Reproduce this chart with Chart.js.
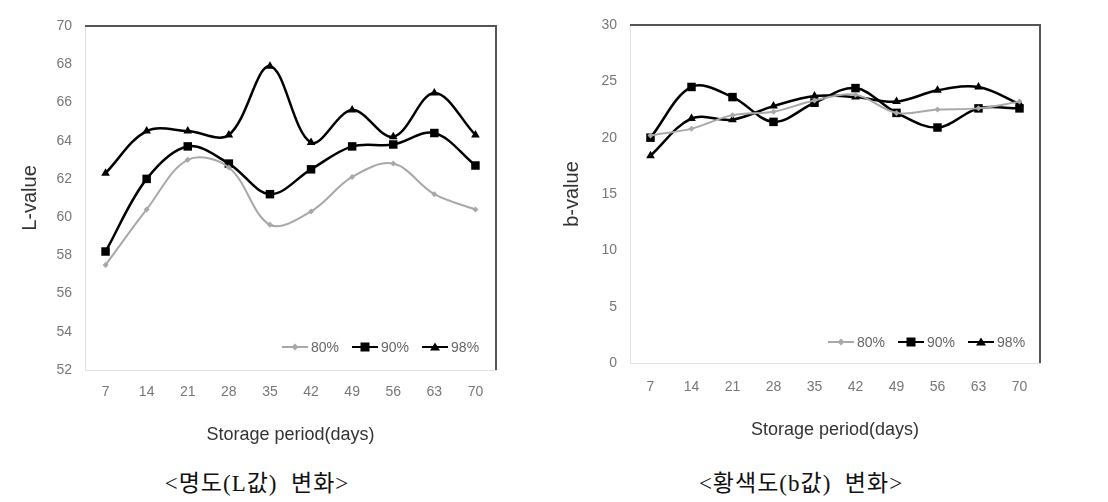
<!DOCTYPE html>
<html>
<head>
<meta charset="utf-8">
<script src="https://cdn.jsdelivr.net/npm/chart.js@4.4.0/dist/chart.umd.min.js"></script>
<style>
body{margin:0;background:#fff;width:1108px;height:502px;position:relative;overflow:hidden;font-family:"Liberation Sans",Arial,sans-serif}
.panel{position:absolute;top:0}
.legend{position:absolute;display:flex;align-items:center;font-size:14px;color:#666;height:16px}
.item{display:flex;align-items:center;margin-right:13px}
.sym{position:relative;width:26px;height:12px;margin-right:3px}
.sym .ln{position:absolute;left:0;right:0;top:5px;height:0}
.sym .mk{position:absolute;left:50%;top:50%}
.caption{position:absolute;top:464px;font-family:"Liberation Serif","Noto Sans CJK KR",serif;font-size:23px;letter-spacing:1px;color:#111;transform:translateX(-50%);white-space:pre}
</style>
</head>
<body>
<div class="panel" style="left:0"><canvas id="cL" width="550" height="450"></canvas></div>
<div class="panel" style="left:550px"><canvas id="cB" width="558" height="450"></canvas></div>
<div class="legend" id="legL" style="left:282px;top:339px"></div>
<div class="legend" id="legB" style="left:828px;top:334px"></div>
<div class="caption" style="left:257px">&lt;명도(L값)  변화&gt;</div>
<div class="caption" style="left:801px">&lt;황색도(b값)  변화&gt;</div>
<script>
// 저장기간(일)
const DAYS = ["7", "14", "21", "28", "35", "42", "49", "56", "63", "70"];
const SERIES = ["80%", "90%", "98%"];

// 명도 L값
const L_80 = [57.5, 60.4, 63.0, 62.6, 59.6, 60.3, 62.1, 62.8, 61.2, 60.4];
const L_90 = [58.2, 62.0, 63.7, 62.8, 61.2, 62.5, 63.7, 63.8, 64.4, 62.7];
const L_98 = [62.3, 64.5, 64.5, 64.3, 67.9, 63.9, 65.6, 64.2, 66.5, 64.3];

// 황색도 b값
const B_80 = [20.2, 20.8, 22.0, 22.3, 23.3, 23.8, 22.2, 22.5, 22.6, 23.2];
const B_90 = [20.0, 24.5, 23.6, 21.4, 23.1, 24.4, 22.2, 20.9, 22.6, 22.6];
const B_98 = [18.4, 21.7, 21.6, 22.8, 23.7, 23.6, 23.2, 24.2, 24.5, 23.0];

const L_TICKS = { min: 52, max: 70, step: 2 };
const B_TICKS = { min: 0, max: 30, step: 5 };

// series look (line colour, marker)
const LOOK = [
  { color: "#a8a8a8", width: 2, point: "rectRot", radius: 3 },
  { color: "#000000", width: 2.5, point: "rect", radius: 6 },
  { color: "#000000", width: 2.5, point: "triangle", radius: 5 }
];

// top and right border of the plot area
const frame = {
  id: "frame",
  beforeDatasetsDraw(c) {
    const { ctx, chartArea: a } = c;
    ctx.save();
    ctx.strokeStyle = "#555";
    ctx.lineWidth = 2;
    ctx.beginPath();
    ctx.moveTo(a.left, a.top);
    ctx.lineTo(a.right, a.top);
    ctx.lineTo(a.right, a.bottom);
    ctx.stroke();
    ctx.restore();
  }
};

function makeChart(id, series, ticks, yTitle, g) {
  const datasets = series.map((data, i) => ({
    label: SERIES[i],
    data,
    borderColor: LOOK[i].color,
    backgroundColor: LOOK[i].color,
    borderWidth: LOOK[i].width,
    pointStyle: LOOK[i].point,
    pointRadius: LOOK[i].radius,
    pointBorderWidth: 0,
    tension: 0.35
  }));
  return new Chart(document.getElementById(id), {
    type: "line",
    data: { labels: DAYS, datasets },
    plugins: [frame],
    options: {
      responsive: false,
      animation: false,
      layout: { padding: { top: g.top, right: g.right, left: 0, bottom: 0 } },
      plugins: { legend: { display: false }, tooltip: { enabled: false } },
      scales: {
        x: {
          offset: true,
          grid: { display: false, drawTicks: false },
          border: { display: true, color: "#e2e2e2", width: 1 },
          ticks: { color: "#777", font: { size: 14 }, padding: g.xTickPad, maxRotation: 0 },
          title: { display: true, text: "Storage period(days)", color: "#333", font: { size: 18 }, padding: { top: 0, bottom: g.xTitlePad } },
          afterFit: s => { s.height = g.xHeight; }
        },
        y: {
          min: ticks.min, max: ticks.max,
          grid: { display: false, drawTicks: false },
          border: { display: true, color: "#e2e2e2", width: 1 },
          ticks: { stepSize: ticks.step, color: "#777", font: { size: 14 }, padding: g.yTickPad },
          title: { display: true, text: yTitle, color: "#333", font: { size: 20 }, padding: { top: g.yTitlePad, bottom: 0 } },
          afterFit: s => { s.width = g.yWidth; }
        }
      }
    }
  });
}

function makeLegend(id) {
  const el = document.getElementById(id);
  SERIES.forEach((name, i) => {
    const lk = LOOK[i];
    let mk;
    if (lk.point === "rect") mk = `width:9px;height:9px;background:${lk.color};transform:translate(-50%,-50%)`;
    else if (lk.point === "triangle") mk = `width:0;height:0;border-left:5px solid transparent;border-right:5px solid transparent;border-bottom:8px solid ${lk.color};transform:translate(-50%,-55%)`;
    else mk = `width:5px;height:5px;background:${lk.color};transform:translate(-50%,-50%) rotate(45deg)`;
    const item = document.createElement("div");
    item.className = "item";
    item.innerHTML = `<div class="sym"><div class="ln" style="border-top:${lk.width}px solid ${lk.color}"></div><div class="mk" style="${mk}"></div></div><span>${name}</span>`;
    el.appendChild(item);
  });
}

makeChart("cL", [L_80, L_90, L_98], L_TICKS, "L-value",
  { top: 26, right: 54, yWidth: 85, xHeight: 80, yTitlePad: 18, yTickPad: 13, xTickPad: 14, xTitlePad: 4 });
makeChart("cB", [B_80, B_90, B_98], B_TICKS, "b-value",
  { top: 25, right: 68, yWidth: 80, xHeight: 87, yTitlePad: 10, yTickPad: 13, xTickPad: 16, xTitlePad: 9 });
makeLegend("legL");
makeLegend("legB");
</script>
</body>
</html>
